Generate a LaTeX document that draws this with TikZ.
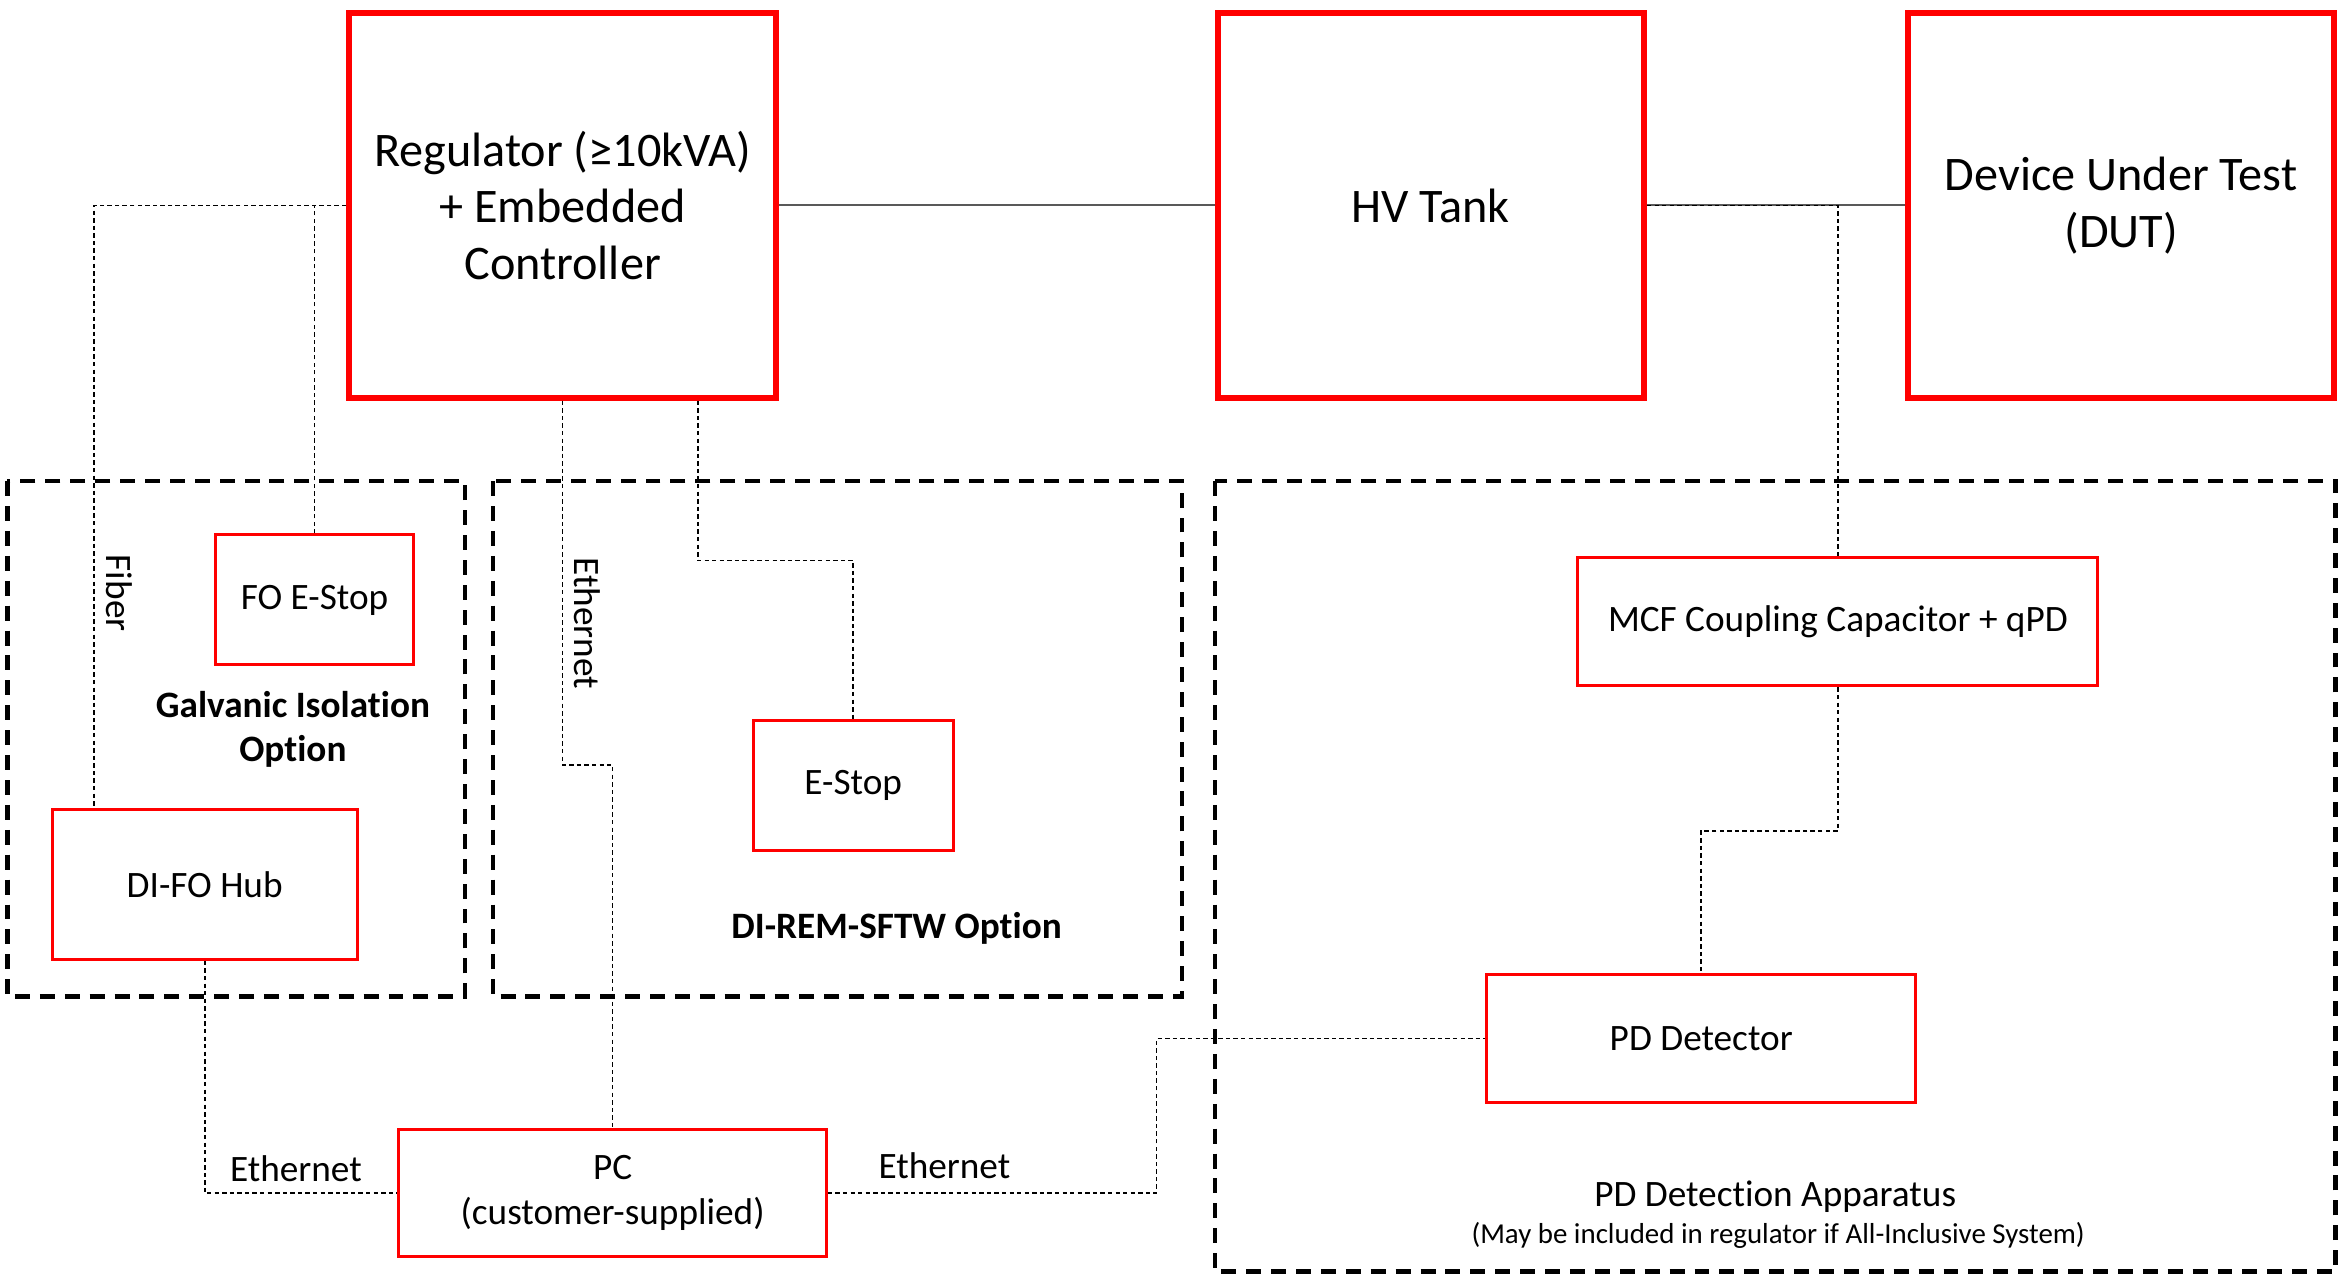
\documentclass[tikz,border=0pt]{standalone}
\usepackage{fontspec}
\setmainfont{Carlito}[Ligatures=NoCommon]
\usetikzlibrary{calc}

\definecolor{boxred}{RGB}{255,0,0}
\definecolor{wire}{RGB}{89,89,89}

\tikzset{
  bigbox/.style={draw=boxred, line width=3pt, inner sep=0pt, align=center,
    minimum width=214pt, minimum height=193pt, font=\fontsize{24.2}{28.5}\selectfont},
  unitbox/.style={draw=boxred, line width=1.5pt, inner sep=0pt, align=center,
    font=\fontsize{18.7}{22.5}\selectfont},
  groupbox/.style={draw=black, line width=2.2pt, dash pattern=on 7.5pt off 5pt},
  conn/.style={draw=black, line width=0.8pt, dash pattern=on 2.2pt off 1.6pt},
  power/.style={draw=wire, line width=1pt},
  lbl/.style={inner sep=0pt, font=\fontsize{18.7}{22}\selectfont},
  boldlbl/.style={inner sep=0pt, align=center, font=\fontsize{18.7}{22}\selectfont\bfseries},
  note/.style={inner sep=0pt, font=\fontsize{14.5}{17}\selectfont}
}

\begin{document}
\begin{tikzpicture}[x=0.75pt, y=-0.75pt]
  \useasboundingbox (0,0) rectangle (1568,853);

  % option groups
  \draw[groupbox] (5,322) rectangle (311,667);
  \draw[groupbox] (330,322) rectangle (791,667);
  \draw[groupbox] (813,322) rectangle (1563,851);

  % main power chain
  \node[bigbox] (reg) at (376.5,137.5) {Regulator (≥10kVA)\\+ Embedded\\Controller};
  \node[bigbox] (hv)  at (957.5,137.5) {HV Tank};
  \node[bigbox] (dut) at (1419.5,137.5) {Device Under Test\\(DUT)};

  % accessory units
  \node[unitbox, minimum width=99.75pt, minimum height=65.25pt] (fo)  at (210.5,401.5) {FO E-Stop};
  \node[unitbox, minimum width=153pt,   minimum height=75pt]    (hub) at (137,592) {DI-FO Hub};
  \node[unitbox, minimum width=100.5pt, minimum height=65.25pt] (es)  at (571,525.5) {E-Stop};
  \node[unitbox, minimum width=214.5pt, minimum height=63.75pt] (pc)  at (410,798.5) {PC\\(customer-supplied)};
  \node[unitbox, minimum width=261pt,   minimum height=64.5pt]  (mcf) at (1230,416) {MCF Coupling Capacitor + qPD};
  \node[unitbox, minimum width=215.25pt,minimum height=64.5pt]  (pd)  at (1138.5,695) {PD Detector};

  % power wiring
  \draw[power] (reg.east) -- (hv.west);
  \draw[power] (hv.east) -- (dut.west);

  % fibre links from the regulator
  \coordinate (fx) at (63,541);
  \draw[conn] (reg.west) -| (fx);
  \draw[conn] (fo.north) -- (fo.north |- reg.west);

  % Ethernet from regulator to PC
  \coordinate (e1) at (376.5,512);
  \draw[conn] (reg.south) -- (e1) -| (pc.north);

  % remote E-Stop
  \path (reg.south) ++(90.5,0) coordinate (r2);
  \draw[conn] (r2) -- ++(0,107) -| (es.north);

  % hub and PC
  \draw[conn] (hub.south) |- (pc.west);
  \coordinate (k) at (774,0);
  \draw[conn] (pc.east) -| (k |- pd.west) -- (pd.west);

  % PD measurement chain
  \draw[conn] (hv.east) -| (mcf.north);
  \draw[conn] (mcf.south) -- ++(0,96) -| (pd.north);

  % labels
  \node[lbl, rotate=-90] (lfib) at (80,397) {Fiber};
  \node[lbl, rotate=-90] (leth1) at (393,417) {Ethernet};
  \node[lbl] (leth2) at (198,782) {Ethernet};
  \node[lbl] (leth3) at (632,780) {Ethernet};
  \node[boldlbl] (lgal) at (196,488) {Galvanic Isolation\\Option};
  \node[boldlbl] (lrem) at (600,621) {DI-REM-SFTW Option};
  \node[lbl] (lpd) at (1188,801) {PD Detection Apparatus};
  \node[note] (lnote) at (1190,827) {(May be included in regulator if All-Inclusive System)};
\end{tikzpicture}
\end{document}
